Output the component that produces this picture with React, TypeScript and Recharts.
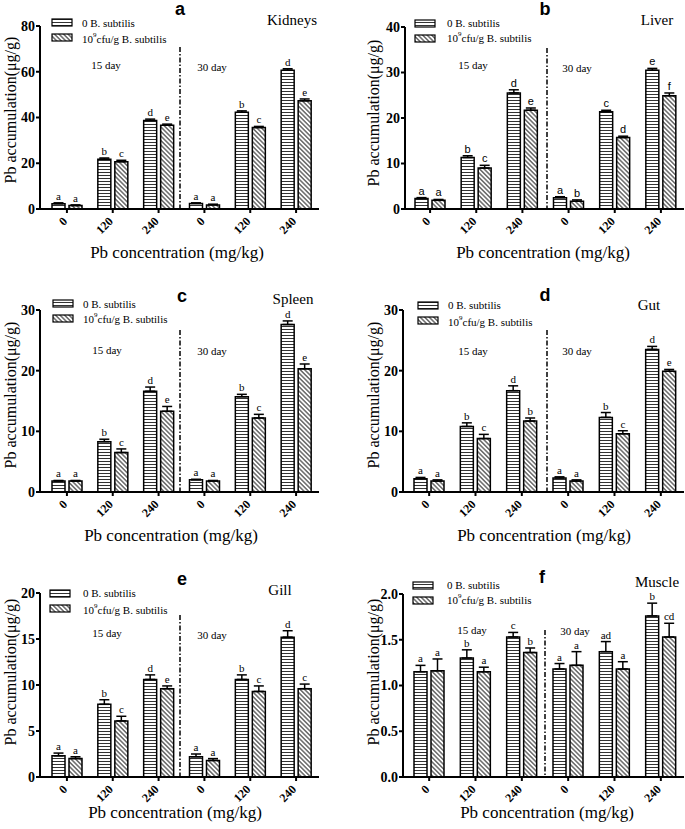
import React from 'react';
import { BarChart, Bar, XAxis, YAxis, ErrorBar, LabelList, Customized } from 'recharts';

const SERIF = '"Liberation Serif", "Times New Roman", serif';
const SANS = '"Liberation Sans", Arial, sans-serif';

const doses = ['0', '120', '240', '0', '120', '240'];

// Kidneys
const kidneyCtrl = [2.3, 21.8, 38.7, 2.4, 42.3, 60.7];
const kidneyCtrlErr = [0.4, 0.5, 0.6, 0.3, 0.6, 0.6];
const kidneyBs = [1.5, 20.7, 36.6, 1.8, 35.6, 47.3];
const kidneyBsErr = [0.3, 0.6, 0.5, 0.3, 0.5, 0.8];
const kidneyCtrlLet = ['a', 'b', 'd', 'a', 'b', 'd'];
const kidneyBsLet = ['a', 'c', 'e', 'a', 'c', 'e'];

// Liver
const liverCtrl = [2.3, 11.3, 25.5, 2.5, 21.4, 30.5];
const liverCtrlErr = [0.2, 0.4, 0.7, 0.2, 0.3, 0.4];
const liverBs = [1.9, 9.0, 21.7, 1.7, 15.7, 24.9];
const liverBsErr = [0.2, 0.6, 0.5, 0.3, 0.3, 0.6];
const liverCtrlLet = ['a', 'b', 'd', 'a', 'c', 'e'];
const liverBsLet = ['a', 'c', 'e', 'b', 'd', 'f'];

// Spleen
const spleenCtrl = [1.8, 8.3, 16.6, 2.0, 15.7, 27.6];
const spleenCtrlErr = [0.1, 0.4, 0.7, 0.1, 0.4, 0.6];
const spleenBs = [1.8, 6.5, 13.3, 1.8, 12.2, 20.3];
const spleenBsErr = [0.1, 0.6, 0.8, 0.1, 0.6, 0.8];
const spleenCtrlLet = ['a', 'b', 'd', 'a', 'b', 'd'];
const spleenBsLet = ['a', 'c', 'e', 'a', 'c', 'e'];

// Gut
const gutCtrl = [2.2, 10.8, 16.7, 2.3, 12.3, 23.5];
const gutCtrlErr = [0.2, 0.6, 0.8, 0.2, 0.8, 0.5];
const gutBs = [1.8, 8.8, 11.7, 1.8, 9.6, 19.9];
const gutBsErr = [0.2, 0.7, 0.5, 0.2, 0.5, 0.3];
const gutCtrlLet = ['a', 'b', 'd', 'a', 'b', 'd'];
const gutBsLet = ['a', 'c', 'b', 'a', 'c', 'e'];

// Gill
const gillCtrl = [2.3, 7.9, 10.6, 2.2, 10.6, 15.2];
const gillCtrlErr = [0.3, 0.5, 0.5, 0.3, 0.5, 0.7];
const gillBs = [2.0, 6.1, 9.6, 1.8, 9.3, 9.6];
const gillBsErr = [0.2, 0.5, 0.3, 0.2, 0.6, 0.5];
const gillCtrlLet = ['a', 'b', 'd', 'a', 'b', 'd'];
const gillBsLet = ['a', 'c', 'e', 'a', 'c', 'c'];

// Muscle
const muscleCtrl = [1.15, 1.30, 1.53, 1.18, 1.37, 1.76];
const muscleCtrlErr = [0.07, 0.09, 0.05, 0.06, 0.11, 0.14];
const muscleBs = [1.16, 1.15, 1.36, 1.22, 1.18, 1.53];
const muscleBsErr = [0.13, 0.05, 0.05, 0.15, 0.08, 0.15];
const muscleCtrlLet = ['a', 'b', 'c', 'a', 'ad', 'b'];
const muscleBsLet = ['a', 'a', 'b', 'a', 'a', 'cd'];

const ticks80 = [0, 20, 40, 60, 80];
const ticks40 = [0, 10, 20, 30, 40];
const ticks30 = [0, 10, 20, 30];
const ticks20 = [0, 5, 10, 15, 20];
const ticks2 = [0, 0.5, 1.0, 1.5, 2.0];

type Pt = [number, number];

interface Panel {
  id: string;
  organ: string;
  ctrl: number[];
  ctrlErr: number[];
  bs: number[];
  bsErr: number[];
  ctrlLet: string[];
  bsLet: string[];
  max: number;
  ticks: number[];
  fixed?: boolean;
  left: number;
  top: number;
  w: number;
  h: number;
  yw: number;
  padL: number;
  mr: number;
  mt: number;
  mb: number;
  title: Pt;
  organPos: Pt;
  leg: Pt;
  legText: [number, number, number];
  day15: Pt;
  day30: Pt;
  div: Pt;
  xTitle: Pt;
  yTitle: Pt;
  letterFont: string;
}

const panels: Panel[] = [
  {
    id: 'a', organ: 'Kidneys', ctrl: kidneyCtrl, ctrlErr: kidneyCtrlErr, bs: kidneyBs, bsErr: kidneyBsErr,
    ctrlLet: kidneyCtrlLet, bsLet: kidneyBsLet, max: 80, ticks: ticks80,
    left: 0, top: 0, w: 340, h: 270, yw: 40, padL: 4, mr: 21, mt: 26, mb: 11,
    title: [180, 9], organPos: [292, 20], leg: [52, 19], legText: [82, 23, 39],
    day15: [106, 65], day30: [212, 67], div: [180, 47], xTitle: [177, 252], yTitle: [10, 110],
    letterFont: SERIF,
  },
  {
    id: 'b', organ: 'Liver', ctrl: liverCtrl, ctrlErr: liverCtrlErr, bs: liverBs, bsErr: liverBsErr,
    ctrlLet: liverCtrlLet, bsLet: liverBsLet, max: 40, ticks: ticks40,
    left: 340, top: 0, w: 345, h: 270, yw: 65, padL: 2, mr: 1, mt: 27, mb: 11,
    title: [545, 9], organPos: [657, 20], leg: [415, 20], legText: [447, 23, 38],
    day15: [473, 65], day30: [577, 68], div: [547, 48], xTitle: [543, 252], yTitle: [373, 113],
    letterFont: SANS,
  },
  {
    id: 'c', organ: 'Spleen', ctrl: spleenCtrl, ctrlErr: spleenCtrlErr, bs: spleenBs, bsErr: spleenBsErr,
    ctrlLet: spleenCtrlLet, bsLet: spleenBsLet, max: 30, ticks: ticks30,
    left: 0, top: 280, w: 340, h: 270, yw: 40, padL: 4, mr: 21, mt: 30, mb: 8,
    title: [182, 296], organPos: [293, 299], leg: [53, 300], legText: [83, 304, 319],
    day15: [107, 350], day30: [212, 351], div: [180, 330], xTitle: [171, 535], yTitle: [10, 395],
    letterFont: SERIF,
  },
  {
    id: 'd', organ: 'Gut', ctrl: gutCtrl, ctrlErr: gutCtrlErr, bs: gutBs, bsErr: gutBsErr,
    ctrlLet: gutCtrlLet, bsLet: gutBsLet, max: 30, ticks: ticks30,
    left: 340, top: 280, w: 345, h: 270, yw: 63, padL: 3, mr: 1, mt: 30, mb: 8,
    title: [545, 295], organPos: [649, 305], leg: [418, 302], legText: [448, 305, 322],
    day15: [473, 351], day30: [577, 351], div: [547, 330], xTitle: [544, 535], yTitle: [373, 395],
    letterFont: SERIF,
  },
  {
    id: 'e', organ: 'Gill', ctrl: gillCtrl, ctrlErr: gillCtrlErr, bs: gillBs, bsErr: gillBsErr,
    ctrlLet: gillCtrlLet, bsLet: gillBsLet, max: 20, ticks: ticks20,
    left: 0, top: 550, w: 340, h: 279, yw: 40, padL: 4, mr: 21, mt: 43, mb: 2,
    title: [182, 579], organPos: [280, 590], leg: [50, 590], legText: [83, 593, 610],
    day15: [107, 633], day30: [212, 635], div: [180, 615], xTitle: [175, 812], yTitle: [10, 672],
    letterFont: SERIF,
  },
  {
    id: 'f', organ: 'Muscle', ctrl: muscleCtrl, ctrlErr: muscleCtrlErr, bs: muscleBs, bsErr: muscleBsErr,
    ctrlLet: muscleCtrlLet, bsLet: muscleBsLet, max: 2, ticks: ticks2, fixed: true,
    left: 340, top: 550, w: 345, h: 279, yw: 63, padL: 3, mr: 1, mt: 44, mb: 2,
    title: [542, 577], organPos: [657, 582], leg: [413, 582], legText: [447, 585, 600],
    day15: [472, 630], day30: [575, 631], div: [545, 630], xTitle: [547, 812], yTitle: [373, 672],
    letterFont: SERIF,
  },
];

const XAXIS_H = 50;

const DoseTick = (props: any) => {
  const { x, y, payload } = props;
  const ax = x + 1;
  const ay = y + 7;
  return (
    <text
      x={ax}
      y={ay}
      transform={`rotate(-45 ${ax} ${ay})`}
      textAnchor="end"
      fontFamily={SERIF}
      fontWeight="bold"
      fontSize={12}
      fill="#000"
    >
      {payload.value}
    </text>
  );
};

const makeLetter = (vals: number[], errs: number[], font: string) => (props: any) => {
  const vb = props.viewBox || props;
  const x = vb.x ?? props.x;
  const y = vb.y ?? props.y;
  const width = vb.width ?? props.width;
  const height = vb.height ?? props.height;
  const index = props.index;
  if (x == null || index == null) return null;
  const ppu = Math.abs(height) / vals[index];
  const ty = y - errs[index] * ppu - 3;
  return (
    <text x={x + width / 2} y={ty} textAnchor="middle" fontFamily={font} fontSize={11} fill="#000">
      {props.value}
    </text>
  );
};

const Patterns = ({ id }: { id: string }) => (
  <defs>
    <pattern id={`hz-${id}`} patternUnits="userSpaceOnUse" width={4} height={3}>
      <rect width={4} height={3} fill="#fff" />
      <line x1={0} y1={1.5} x2={4} y2={1.5} stroke="#333" strokeWidth={1} />
    </pattern>
    <pattern id={`dg-${id}`} patternUnits="userSpaceOnUse" width={3.2} height={3.2} patternTransform="rotate(-45)">
      <rect width={3.2} height={3.2} fill="#fff" />
      <line x1={1.6} y1={0} x2={1.6} y2={3.2} stroke="#333" strokeWidth={1.1} />
    </pattern>
  </defs>
);

const Overlay = ({ p }: { p: Panel }) => {
  const ox = p.left;
  const oy = p.top;
  const axisY = p.h - p.mb - XAXIS_H;
  const T = (pt: Pt): Pt => [pt[0] - ox, pt[1] - oy];
  const [tx, ty] = T(p.title);
  const [gx, gy] = T(p.organPos);
  const [lx, ly] = T(p.leg);
  const [d1x, d1y] = T(p.day15);
  const [d2x, d2y] = T(p.day30);
  const [vx, vy] = T(p.div);
  const [xtx, xty] = T(p.xTitle);
  const [ytx, yty] = T(p.yTitle);
  const legTx = p.legText[0] - ox;
  const legT1 = p.legText[1] - oy;
  const legT2 = p.legText[2] - oy;
  return (
    <g>
      <text x={tx} y={ty} textAnchor="middle" dominantBaseline="central" fontFamily={SANS} fontWeight="bold" fontSize={18} fill="#000">
        {p.id}
      </text>
      <text x={gx} y={gy} textAnchor="middle" dominantBaseline="central" fontFamily={SERIF} fontSize={15} fill="#000">
        {p.organ}
      </text>
      <rect x={lx} y={ly} width={20} height={7} fill={`url(#hz-${p.id})`} stroke="#000" strokeWidth={1.2} />
      <rect x={lx} y={ly + 15} width={20} height={7} fill={`url(#dg-${p.id})`} stroke="#000" strokeWidth={1.2} />
      <text x={legTx} y={legT1} dominantBaseline="central" fontFamily={SERIF} fontSize={11} fill="#000">
        0 B. subtilis
      </text>
      <text x={legTx} y={legT2} dominantBaseline="central" fontFamily={SERIF} fontSize={11} fill="#000">
        10<tspan dy={-4} fontSize={7}>9</tspan>
        <tspan dy={4}>cfu/g B. subtilis</tspan>
      </text>
      <text x={d1x} y={d1y} textAnchor="middle" dominantBaseline="central" fontFamily={SERIF} fontSize={11} fill="#000">
        15 day
      </text>
      <text x={d2x} y={d2y} textAnchor="middle" dominantBaseline="central" fontFamily={SERIF} fontSize={11} fill="#000">
        30 day
      </text>
      <line x1={vx} y1={vy} x2={vx} y2={axisY} stroke="#000" strokeWidth={1.5} strokeDasharray="5 2 1.5 2" />
      <text x={xtx} y={xty} textAnchor="middle" dominantBaseline="central" fontFamily={SERIF} fontSize={17} fill="#000">
        Pb concentration (mg/kg)
      </text>
      <text
        x={ytx}
        y={yty}
        transform={`rotate(-90 ${ytx} ${yty})`}
        textAnchor="middle"
        dominantBaseline="central"
        fontFamily={SERIF}
        fontSize={16}
        fill="#000"
      >
        Pb accumulation(μg/g)
      </text>
    </g>
  );
};

const PanelChart = ({ p }: { p: Panel }) => {
  const data = doses.map((d, i) => ({
    dose: d,
    ctrl: p.ctrl[i],
    bs: p.bs[i],
    ctrlErr: [0, p.ctrlErr[i]],
    bsErr: [0, p.bsErr[i]],
    ctrlLet: p.ctrlLet[i],
    bsLet: p.bsLet[i],
  }));
  return (
    <div style={{ position: 'absolute', left: p.left, top: p.top, width: p.w, height: p.h }}>
      <BarChart
        width={p.w}
        height={p.h}
        data={data}
        margin={{ top: p.mt, right: p.mr, bottom: p.mb, left: 0 }}
        barCategoryGap={8}
        barGap={4}
      >
        <Patterns id={p.id} />
        <XAxis
          dataKey="dose"
          height={XAXIS_H}
          padding={{ left: p.padL, right: 0 }}
          axisLine={{ stroke: '#000', strokeWidth: 2 }}
          tickLine={{ stroke: '#000', strokeWidth: 2 }}
          tickSize={4}
          tick={<DoseTick />}
          interval={0}
        />
        <YAxis
          width={p.yw}
          domain={[0, p.max]}
          ticks={p.ticks}
          allowDataOverflow
          axisLine={{ stroke: '#000', strokeWidth: 2 }}
          tickLine={{ stroke: '#000', strokeWidth: 2 }}
          tickSize={4}
          tickMargin={1}
          tick={{ fill: '#000', fontFamily: SERIF, fontWeight: 'bold', fontSize: 14 }}
          tickFormatter={(v: number) => (p.fixed ? v.toFixed(1) : String(v))}
        />
        <Bar dataKey="ctrl" fill={`url(#hz-${p.id})`} stroke="#000" strokeWidth={1.5} isAnimationActive={false}>
          <ErrorBar dataKey="ctrlErr" width={5} stroke="#000" strokeWidth={1.5} isAnimationActive={false} />
          <LabelList dataKey="ctrlLet" content={makeLetter(p.ctrl, p.ctrlErr, p.letterFont)} />
        </Bar>
        <Bar dataKey="bs" fill={`url(#dg-${p.id})`} stroke="#000" strokeWidth={1.5} isAnimationActive={false}>
          <ErrorBar dataKey="bsErr" width={5} stroke="#000" strokeWidth={1.5} isAnimationActive={false} />
          <LabelList dataKey="bsLet" content={makeLetter(p.bs, p.bsErr, p.letterFont)} />
        </Bar>
        <Customized component={() => <Overlay p={p} />} />
      </BarChart>
    </div>
  );
}

export default function App() {
  return (
    <div style={{ position: 'absolute', left: 0, top: 0, width: 685, height: 829, background: '#fff' }}>
      {panels.map((p) => (
        <PanelChart key={p.id} p={p} />
      ))}
    </div>
  );
}
